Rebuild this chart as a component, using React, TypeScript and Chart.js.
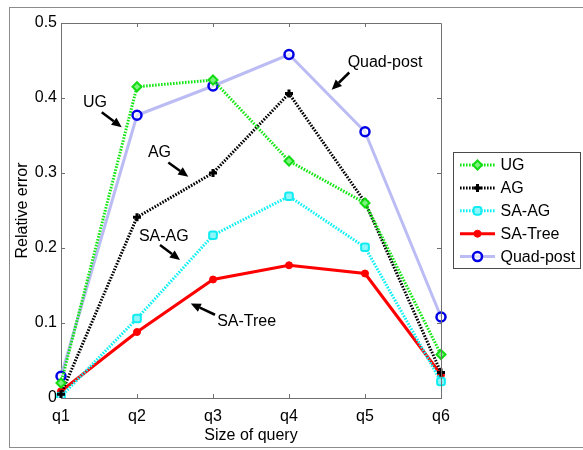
import React, { useEffect, useRef } from 'react';
import { Chart, registerables } from 'chart.js';
import { drawPoint } from 'chart.js/helpers';

Chart.register(...registerables);

// ---- data ----
const categories = ['q1', 'q2', 'q3', 'q4', 'q5', 'q6'];
const ugValues = [0.02, 0.415, 0.424, 0.316, 0.26, 0.058];
const agValues = [0.005, 0.241, 0.3, 0.406, 0.261, 0.034];
const saAgValues = [0.002, 0.106, 0.217, 0.269, 0.201, 0.022];
const saTreeValues = [0.009, 0.088, 0.158, 0.177, 0.166, 0.031];
const quadPostValues = [0.029, 0.377, 0.416, 0.458, 0.355, 0.108];
const yTickValues = [0, 0.1, 0.2, 0.3, 0.4, 0.5];

// Callout labels with arrows, in data coordinates (category index, value)
const callouts = [
  { text: 'UG', at: [0.447, 0.388], from: [0.536, 0.381], to: [0.799, 0.361] },
  { text: 'AG', at: [1.296, 0.321], from: [1.412, 0.314], to: [1.675, 0.295] },
  { text: 'SA-AG', at: [1.353, 0.209], from: [1.303, 0.204], to: [1.566, 0.184] },
  { text: 'SA-Tree', at: [2.443, 0.096], from: [2.026, 0.111], to: [1.707, 0.126] },
  { text: 'Quad-post', at: [4.263, 0.441], from: [3.793, 0.434], to: [3.562, 0.411] },
];

const FONT = '"Liberation Sans", Arial, Helvetica, sans-serif';
const AXIS_COLOR = '#707070';
const DOTS = [1.6, 1.4];

function drawArrow(ctx: CanvasRenderingContext2D, x1: number, y1: number, x2: number, y2: number) {
  const ang = Math.atan2(y2 - y1, x2 - x1);
  const headLen = 10;
  const headHalf = 4.5;
  const bx = x2 - headLen * Math.cos(ang);
  const by = y2 - headLen * Math.sin(ang);
  ctx.save();
  ctx.strokeStyle = '#000';
  ctx.fillStyle = '#000';
  ctx.lineWidth = 2.5;
  ctx.beginPath();
  ctx.moveTo(x1, y1);
  ctx.lineTo(bx, by);
  ctx.stroke();
  ctx.beginPath();
  ctx.moveTo(x2, y2);
  ctx.lineTo(bx + headHalf * Math.sin(ang), by - headHalf * Math.cos(ang));
  ctx.lineTo(bx - headHalf * Math.sin(ang), by + headHalf * Math.cos(ang));
  ctx.closePath();
  ctx.fill();
  ctx.restore();
}

const decorPlugin = {
  id: 'decor',
  beforeDraw(chart: any) {
    const ctx = chart.ctx as CanvasRenderingContext2D;
    ctx.save();
    ctx.fillStyle = '#fff';
    ctx.fillRect(0, 0, chart.width, chart.height);
    // figure frame
    ctx.strokeStyle = '#8c8c8c';
    ctx.lineWidth = 1;
    ctx.strokeRect(9.5, 7.5, 600, 440);
    ctx.restore();
  },
  afterDraw(chart: any) {
    const ctx = chart.ctx as CanvasRenderingContext2D;
    const { left, right, top, bottom } = chart.chartArea;
    const xs = chart.scales.x;
    const ys = chart.scales.y;
    ctx.save();
    // box: top and right edges
    ctx.strokeStyle = AXIS_COLOR;
    ctx.lineWidth = 1;
    ctx.beginPath();
    ctx.moveTo(left, top + 0.5);
    ctx.lineTo(right + 0.5, top + 0.5);
    ctx.lineTo(right + 0.5, bottom);
    ctx.stroke();
    // inward tick marks
    ctx.beginPath();
    categories.forEach((_, i) => {
      const px = Math.round(xs.getPixelForTick(i)) + 0.5;
      if (i === 0 || i === categories.length - 1) return;
      ctx.moveTo(px, top);
      ctx.lineTo(px, top + 4);
      ctx.moveTo(px, bottom);
      ctx.lineTo(px, bottom - 4);
    });
    yTickValues.forEach((v, i) => {
      if (i === 0 || i === yTickValues.length - 1) return;
      const py = Math.round(ys.getPixelForValue(v)) + 0.5;
      ctx.moveTo(left, py);
      ctx.lineTo(left + 4, py);
      ctx.moveTo(right, py);
      ctx.lineTo(right - 4, py);
    });
    ctx.stroke();

    // callouts
    ctx.font = `16px ${FONT}`;
    ctx.fillStyle = '#000';
    ctx.textAlign = 'center';
    ctx.textBaseline = 'alphabetic';
    callouts.forEach((c) => {
      ctx.fillText(c.text, xs.getPixelForValue(c.at[0]), ys.getPixelForValue(c.at[1]));
      drawArrow(
        ctx,
        xs.getPixelForValue(c.from[0]),
        ys.getPixelForValue(c.from[1]),
        xs.getPixelForValue(c.to[0]),
        ys.getPixelForValue(c.to[1])
      );
    });

    // legend box
    const lx = 453.5;
    const ly = 152.5;
    const lw = 127;
    const lh = 116;
    ctx.fillStyle = '#fff';
    ctx.fillRect(lx, ly, lw, lh);
    ctx.strokeStyle = '#4a4a4a';
    ctx.lineWidth = 1;
    ctx.strokeRect(lx, ly, lw, lh);
    const rowH = 22.9;
    chart.data.datasets.forEach((ds: any, i: number) => {
      const cy = 165 + i * rowH;
      ctx.save();
      ctx.strokeStyle = ds.borderColor;
      ctx.lineWidth = ds.borderWidth;
      ctx.setLineDash(ds.borderDash || []);
      ctx.beginPath();
      ctx.moveTo(460, cy);
      ctx.lineTo(495, cy);
      ctx.stroke();
      ctx.setLineDash([]);
      ctx.fillStyle = ds.pointBackgroundColor;
      ctx.strokeStyle = ds.pointBorderColor;
      ctx.lineWidth = ds.pointBorderWidth;
      drawPoint(ctx, { pointStyle: ds.pointStyle, radius: ds.pointRadius, borderWidth: ds.pointBorderWidth, rotation: 0 }, 477.5, cy);
      ctx.restore();
      ctx.fillStyle = '#000';
      ctx.textAlign = 'left';
      ctx.textBaseline = 'middle';
      ctx.fillText(ds.label, 500.5, cy + 0.5);
    });
    ctx.restore();
  },
};

export default function App() {
  const canvasRef = useRef<HTMLCanvasElement | null>(null);

  useEffect(() => {
    const canvas = canvasRef.current;
    if (!canvas) return;
    const chart = new Chart(canvas, {
      type: 'line',
      data: {
        labels: categories,
        datasets: [
          {
            label: 'UG',
            data: ugValues,
            borderColor: '#14e614',
            borderWidth: 3,
            borderDash: DOTS,
            pointStyle: 'rectRot',
            pointRadius: 4.5,
            pointBorderWidth: 2,
            pointBorderColor: '#12dc12',
            pointBackgroundColor: '#7ef27e',
          },
          {
            label: 'AG',
            data: agValues,
            borderColor: '#000',
            borderWidth: 3,
            borderDash: DOTS,
            pointStyle: 'cross',
            pointRadius: 4,
            pointBorderWidth: 3,
            pointBorderColor: '#000',
            pointBackgroundColor: '#000',
          },
          {
            label: 'SA-AG',
            data: saAgValues,
            borderColor: '#10f0f4',
            borderWidth: 3,
            borderDash: DOTS,
            pointStyle: 'rectRounded',
            pointRadius: 4.5,
            pointBorderWidth: 2,
            pointBorderColor: '#10ecf0',
            pointBackgroundColor: '#8ef6fa',
          },
          {
            label: 'SA-Tree',
            data: saTreeValues,
            borderColor: '#ff0000',
            borderWidth: 3,
            pointStyle: 'circle',
            pointRadius: 3.5,
            pointBorderWidth: 1,
            pointBorderColor: '#ff0000',
            pointBackgroundColor: '#ff0000',
          },
          {
            label: 'Quad-post',
            data: quadPostValues,
            borderColor: '#bcbcf5',
            borderWidth: 3,
            pointStyle: 'circle',
            pointRadius: 4.5,
            pointBorderWidth: 2.5,
            pointBorderColor: '#0000e6',
            pointBackgroundColor: 'rgba(255,255,255,0.6)',
          },
        ],
      },
      options: {
        responsive: false,
        animation: false,
        devicePixelRatio: 1,
        layout: { padding: { top: 23, right: 142, bottom: 0, left: 0 } },
        elements: { line: { tension: 0 } },
        plugins: {
          legend: { display: false },
          tooltip: { enabled: false },
        },
        scales: {
          x: {
            type: 'category',
            offset: false,
            grid: { display: false, drawTicks: false },
            border: { display: true, color: AXIS_COLOR, width: 1 },
            ticks: {
              font: { family: FONT, size: 16 },
              color: '#000',
              padding: 9,
              maxRotation: 0,
              autoSkip: false,
            },
            title: {
              display: true,
              text: 'Size of query',
              font: { family: FONT, size: 16 },
              color: '#000',
              padding: { top: 0, bottom: 5 },
            },
            afterFit(scale: any) {
              scale.height = 52;
            },
          },
          y: {
            min: 0,
            max: 0.5,
            grid: { display: false, drawTicks: false },
            border: { display: true, color: AXIS_COLOR, width: 1 },
            ticks: {
              stepSize: 0.1,
              font: { family: FONT, size: 16 },
              color: '#000',
              padding: 4,
              callback: (v: any) => (Number(v) === 0 ? '0' : Number(v).toFixed(1)),
            },
            title: {
              display: true,
              text: 'Relative error',
              font: { family: FONT, size: 16 },
              color: '#000',
              padding: { top: 13, bottom: 0 },
            },
            afterFit(scale: any) {
              scale.width = 61;
            },
          },
        },
      },
      plugins: [decorPlugin],
    });
    return () => chart.destroy();
  }, []);

  return (
    <div style={{ position: 'fixed', left: 0, top: 0, width: 583, height: 450, background: '#fff' }}>
      <canvas ref={canvasRef} width={583} height={450} style={{ display: 'block' }} />
    </div>
  );
}
